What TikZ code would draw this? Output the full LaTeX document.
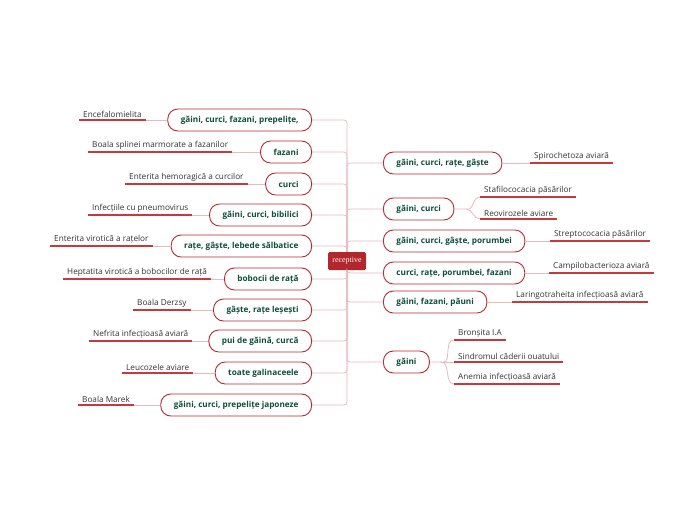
\documentclass[tikz,border=0pt]{standalone}
\usepackage{fontspec}
\setmainfont{Open Sans}
\newfontfamily\rootfont{Liberation Serif}
\definecolor{nodered}{HTML}{B8292F}
\definecolor{txtgreen}{HTML}{0F4D3C}
\definecolor{linkpink}{HTML}{E9B9BC}
\definecolor{leafred}{HTML}{C43A3F}
\definecolor{rootred}{HTML}{B3262B}
\begin{document}
\begin{tikzpicture}[x=1pt, y=-1pt,
	grp/.style={draw=nodered, line width=0.9pt, rounded corners=10pt, fill=white, text=txtgreen, font=\fontsize{8.2}{9}\selectfont\bfseries, inner xsep=13pt, minimum height=22pt},
	leaf/.style={inner xsep=4pt, inner ysep=2.5pt, text=black!80, font=\fontsize{8.2}{9}\selectfont},
	conn/.style={draw=linkpink, line width=0.8pt, rounded corners=3pt},
	uline/.style={draw=leafred, line width=1.2pt}]
	\useasboundingbox (0,0) rectangle (697,520);
	\node[fill=rootred, text=white, rounded corners=1.5pt, minimum width=38pt, minimum height=18pt, inner sep=1pt, font=\rootfont\fontsize{8}{9}\selectfont] (rc) at (347,261) {receptive};
	% left side
	\node[grp, anchor=east] (L1) at (312,120) {găini, curci, fazani, prepelițe,};
	\node[grp, anchor=east] (L2) at (312,152) {fazani};
	\node[grp, anchor=east] (L3) at (312,184) {curci};
	\node[grp, anchor=east] (L4) at (312,215) {găini, curci, bibilici};
	\node[grp, anchor=east] (L5) at (312,246) {rațe, gâște, lebede sălbatice};
	\node[grp, anchor=east] (L6) at (312,279) {bobocii de rață};
	\node[grp, anchor=east] (L7) at (312,310) {gâște, rațe leșești};
	\node[grp, anchor=east] (L8) at (312,341) {pui de găină, curcă};
	\node[grp, anchor=east] (L9) at (312,373) {toate galinaceele};
	\node[grp, anchor=east] (L10) at (312,405) {găini, curci, prepelițe japoneze};
	\draw[conn] (rc) |- (L1.east);
	\draw[conn] (rc) |- (L2.east);
	\draw[conn] (rc) |- (L3.east);
	\draw[conn] (rc) |- (L4.east);
	\draw[conn] (rc) |- (L5.east);
	\draw[conn] (rc) |- (L6.east);
	\draw[conn] (rc) |- (L7.east);
	\draw[conn] (rc) |- (L8.east);
	\draw[conn] (rc) |- (L9.east);
	\draw[conn] (rc) |- (L10.east);
	% left leaves
	\node[leaf, anchor=south west] (a1) at (79,120) {Encefalomielita};
	\node[leaf, anchor=south west] (a2) at (88,152) {Boala splinei marmorate a fazanilor};
	\node[leaf, anchor=south west] (a3) at (125,184) {Enterita hemoragică a curcilor};
	\node[leaf, anchor=south west] (a4) at (88,215) {Infecțiile cu pneumovirus};
	\node[leaf, anchor=south west] (a5) at (50,246) {Enterita virotică a rațelor};
	\node[leaf, anchor=south west] (a6) at (63,279) {Heptatita virotică a bobocilor de rață};
	\node[leaf, anchor=south west] (a7) at (133,310) {Boala Derzsy};
	\node[leaf, anchor=south west] (a8) at (89,341) {Nefrita infecțioasă aviară};
	\node[leaf, anchor=south west] (a9) at (122,373) {Leucozele aviare};
	\node[leaf, anchor=south west] (a10) at (78,405) {Boala Marek};
	\draw[conn] (a1.south east) -- (L1.west);
	\draw[conn] (a2.south east) -- (L2.west);
	\draw[conn] (a3.south east) -- (L3.west);
	\draw[conn] (a4.south east) -- (L4.west);
	\draw[conn] (a5.south east) -- (L5.west);
	\draw[conn] (a6.south east) -- (L6.west);
	\draw[conn] (a7.south east) -- (L7.west);
	\draw[conn] (a8.south east) -- (L8.west);
	\draw[conn] (a9.south east) -- (L9.west);
	\draw[conn] (a10.south east) -- (L10.west);
	\draw[uline] (a1.south west) -- (a1.south east);
	\draw[uline] (a2.south west) -- (a2.south east);
	\draw[uline] (a3.south west) -- (a3.south east);
	\draw[uline] (a4.south west) -- (a4.south east);
	\draw[uline] (a5.south west) -- (a5.south east);
	\draw[uline] (a6.south west) -- (a6.south east);
	\draw[uline] (a7.south west) -- (a7.south east);
	\draw[uline] (a8.south west) -- (a8.south east);
	\draw[uline] (a9.south west) -- (a9.south east);
	\draw[uline] (a10.south west) -- (a10.south east);
	% right side
	\node[grp, anchor=west] (R1) at (383,163) {găini, curci, rațe, gâște};
	\node[grp, anchor=west] (R2) at (383,209) {găini, curci};
	\node[grp, anchor=west] (R3) at (383,241) {găini, curci, gâște, porumbei};
	\node[grp, anchor=west] (R4) at (383,273) {curci, rațe, porumbei, fazani};
	\node[grp, anchor=west] (R5) at (383,302) {găini, fazani, păuni};
	\node[grp, anchor=west] (R6) at (383,362) {găini};
	\draw[conn] (rc) |- (R1.west);
	\draw[conn] (rc) |- (R2.west);
	\draw[conn] (rc) |- (R3.west);
	\draw[conn] (rc) |- (R4.west);
	\draw[conn] (rc) |- (R5.west);
	\draw[conn] (rc) |- (R6.west);
	% right leaves
	\node[leaf, anchor=south west] (b1) at (530,163) {Spirochetoza aviară};
	\node[leaf, anchor=south west] (b2) at (480,197) {Stafilococacia păsărilor};
	\node[leaf, anchor=south west] (b3) at (480,219) {Reovirozele aviare};
	\node[leaf, anchor=south west] (b4) at (550,241) {Streptococacia păsărilor};
	\node[leaf, anchor=south west] (b5) at (549,273) {Campilobacterioza aviară};
	\node[leaf, anchor=south west] (b6) at (512,302) {Laringotraheita infecțioasă aviară};
	\node[leaf, anchor=south west] (b7) at (454,340) {Bronșita I.A};
	\node[leaf, anchor=south west] (b8) at (454,362) {Sindromul căderii ouatului};
	\node[leaf, anchor=south west] (b9) at (454,384) {Anemia infecțioasă aviară};
	\coordinate (s2) at (466,209);
	\coordinate (s6) at (441,362);
	\draw[conn] (R1.east) -- (b1.south west);
	\draw[conn] (R2.east) -- (s2) to[out=0, in=180] (b2.south west);
	\draw[conn] (s2) to[out=0, in=180] (b3.south west);
	\draw[conn] (R3.east) -- (b4.south west);
	\draw[conn] (R4.east) -- (b5.south west);
	\draw[conn] (R5.east) -- (b6.south west);
	\draw[conn] (R6.east) -- (s6) to[out=0, in=180] (b7.south west);
	\draw[conn] (s6) -- (b8.south west);
	\draw[conn] (s6) to[out=0, in=180] (b9.south west);
	\draw[uline] (b1.south west) -- (b1.south east);
	\draw[uline] (b2.south west) -- (b2.south east);
	\draw[uline] (b3.south west) -- (b3.south east);
	\draw[uline] (b4.south west) -- (b4.south east);
	\draw[uline] (b5.south west) -- (b5.south east);
	\draw[uline] (b6.south west) -- (b6.south east);
	\draw[uline] (b7.south west) -- (b7.south east);
	\draw[uline] (b8.south west) -- (b8.south east);
	\draw[uline] (b9.south west) -- (b9.south east);
\end{tikzpicture}
\end{document}
